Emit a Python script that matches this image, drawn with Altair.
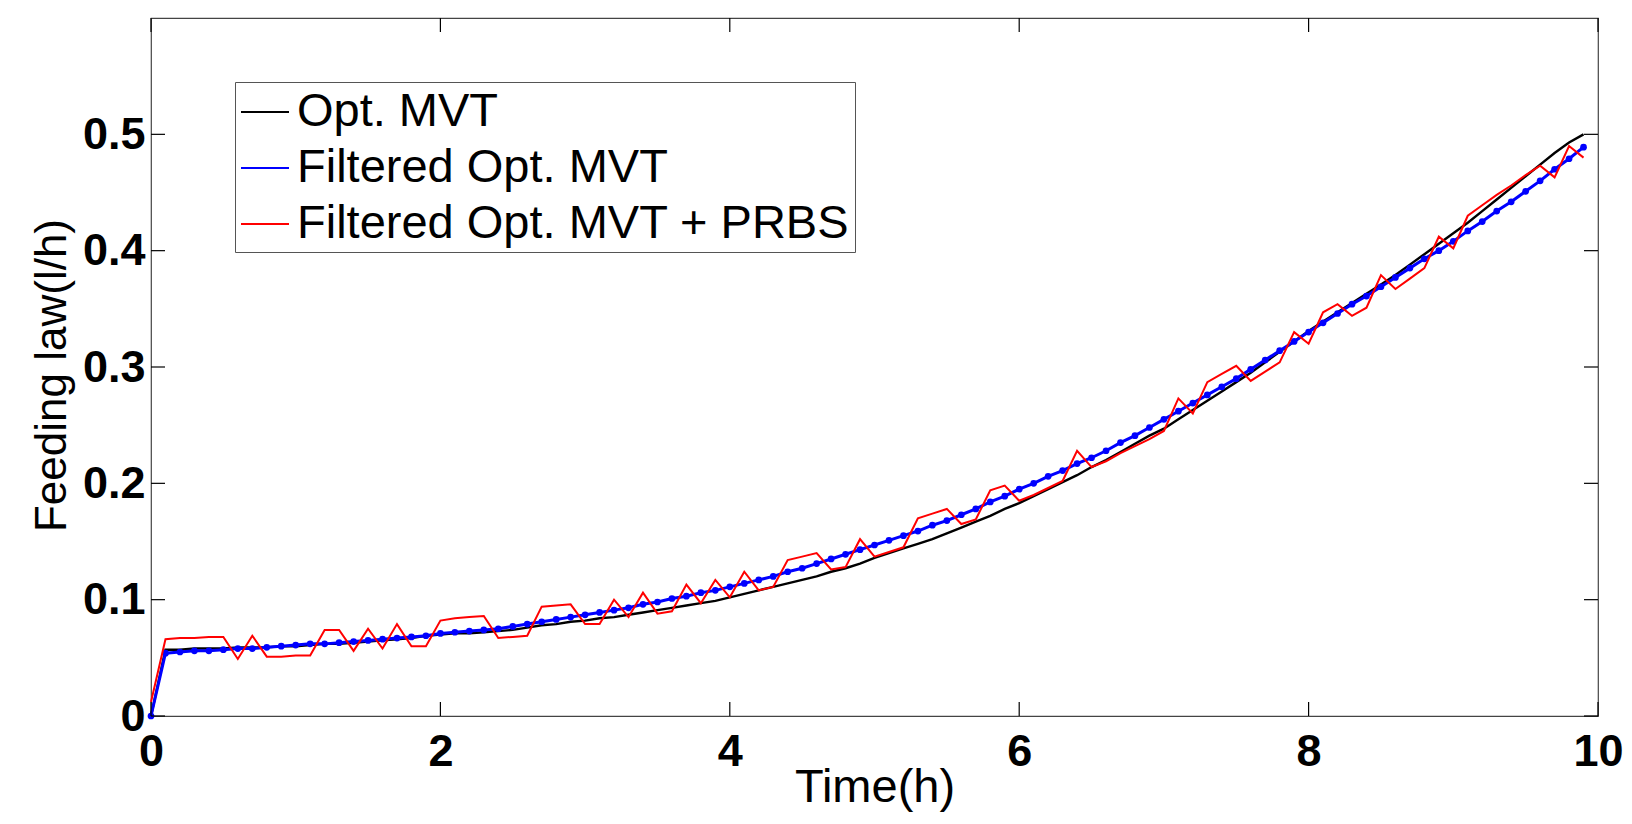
import altair as alt
import pandas as pd

time_h = [0.0, 0.1, 0.2, 0.3, 0.4, 0.5, 0.6, 0.7, 0.8, 0.9,
          1.0, 1.1, 1.2, 1.3, 1.4, 1.5, 1.6, 1.7, 1.8, 1.9,
          2.0, 2.1, 2.2, 2.3, 2.4, 2.5, 2.6, 2.7, 2.8, 2.9,
          3.0, 3.1, 3.2, 3.3, 3.4, 3.5, 3.6, 3.7, 3.8, 3.9,
          4.0, 4.1, 4.2, 4.3, 4.4, 4.5, 4.6, 4.7, 4.8, 4.9,
          5.0, 5.1, 5.2, 5.3, 5.4, 5.5, 5.6, 5.7, 5.8, 5.9,
          6.0, 6.1, 6.2, 6.3, 6.4, 6.5, 6.6, 6.7, 6.8, 6.9,
          7.0, 7.1, 7.2, 7.3, 7.4, 7.5, 7.6, 7.7, 7.8, 7.9,
          8.0, 8.1, 8.2, 8.3, 8.4, 8.5, 8.6, 8.7, 8.8, 8.9,
          9.0, 9.1, 9.2, 9.3, 9.4, 9.5, 9.6, 9.7, 9.8, 9.9]

opt_mvt = [0.000, 0.057, 0.057, 0.058, 0.058, 0.058, 0.059, 0.059, 0.059, 0.060,
           0.060, 0.061, 0.062, 0.062, 0.063, 0.064, 0.065, 0.066, 0.067, 0.069,
           0.070, 0.071, 0.071, 0.072, 0.073, 0.074, 0.076, 0.078, 0.079, 0.081,
           0.082, 0.084, 0.085, 0.087, 0.089, 0.091, 0.093, 0.095, 0.097, 0.099,
           0.102, 0.105, 0.108, 0.111, 0.114, 0.117, 0.120, 0.124, 0.127, 0.131,
           0.136, 0.140, 0.144, 0.148, 0.152, 0.157, 0.162, 0.167, 0.172, 0.178,
           0.183, 0.189, 0.195, 0.201, 0.207, 0.214, 0.220, 0.227, 0.234, 0.241,
           0.247, 0.255, 0.263, 0.271, 0.279, 0.287, 0.295, 0.304, 0.313, 0.322,
           0.331, 0.339, 0.347, 0.355, 0.363, 0.371, 0.379, 0.388, 0.397, 0.406,
           0.415, 0.424, 0.434, 0.444, 0.454, 0.464, 0.474, 0.484, 0.493, 0.500]

filtered_mvt = [0.000, 0.054, 0.055, 0.056, 0.056, 0.057, 0.058, 0.058, 0.059, 0.060,
                0.061, 0.062, 0.062, 0.063, 0.064, 0.065, 0.066, 0.067, 0.068, 0.069,
                0.071, 0.072, 0.073, 0.074, 0.075, 0.077, 0.079, 0.081, 0.083, 0.085,
                0.087, 0.089, 0.091, 0.093, 0.096, 0.098, 0.101, 0.103, 0.106, 0.108,
                0.111, 0.114, 0.117, 0.120, 0.124, 0.127, 0.131, 0.135, 0.139, 0.143,
                0.147, 0.151, 0.155, 0.159, 0.164, 0.168, 0.173, 0.178, 0.184, 0.189,
                0.195, 0.200, 0.206, 0.211, 0.217, 0.222, 0.228, 0.235, 0.241, 0.248,
                0.255, 0.262, 0.269, 0.276, 0.283, 0.290, 0.298, 0.306, 0.314, 0.322,
                0.330, 0.338, 0.346, 0.354, 0.361, 0.369, 0.377, 0.385, 0.393, 0.400,
                0.408, 0.417, 0.425, 0.434, 0.442, 0.451, 0.460, 0.470, 0.479, 0.489]

filtered_prbs = [0.012, 0.066, 0.067, 0.067, 0.068, 0.068, 0.049, 0.069, 0.051, 0.051,
                 0.052, 0.052, 0.074, 0.074, 0.056, 0.075, 0.058, 0.079, 0.060, 0.060,
                 0.082, 0.084, 0.085, 0.086, 0.067, 0.068, 0.069, 0.094, 0.095, 0.096,
                 0.079, 0.079, 0.100, 0.085, 0.106, 0.088, 0.090, 0.113, 0.097, 0.117,
                 0.102, 0.124, 0.108, 0.111, 0.134, 0.137, 0.140, 0.126, 0.128, 0.152,
                 0.137, 0.141, 0.145, 0.170, 0.174, 0.178, 0.165, 0.169, 0.194, 0.198,
                 0.185, 0.190, 0.196, 0.202, 0.228, 0.214, 0.219, 0.226, 0.232, 0.238,
                 0.245, 0.273, 0.260, 0.287, 0.294, 0.301, 0.288, 0.296, 0.304, 0.330,
                 0.320, 0.347, 0.354, 0.344, 0.351, 0.379, 0.367, 0.376, 0.385, 0.412,
                 0.402, 0.430, 0.439, 0.448, 0.456, 0.465, 0.473, 0.463, 0.490, 0.480]

series_names = ["Opt. MVT", "Filtered Opt. MVT", "Filtered Opt. MVT + PRBS"]
series_colors = ["#000000", "#0000ff", "#ff0000"]
x_ticks = [0, 2, 4, 6, 8, 10]
y_ticks = [0, 0.1, 0.2, 0.3, 0.4, 0.5]

W, H = 1447, 698
TICK = 14
FONT = "Liberation Sans"


def frame(vals, name):
    return pd.DataFrame({"t": time_h, "v": vals, "series": name})


df_black = frame(opt_mvt, series_names[0])
df_blue = frame(filtered_mvt, series_names[1])
df_red = frame(filtered_prbs, series_names[2])

xs = alt.Scale(domain=[0, 10], nice=False, zero=False)
ys = alt.Scale(domain=[0, 0.6], nice=False, zero=False)

x_axis = alt.Axis(values=x_ticks, format="d", title="Time(h)", titleY=85,
                  titleBaseline="alphabetic", titleFontSize=47, labelPadding=13)
y_axis = alt.Axis(values=y_ticks, format=".1~f", title="Feeding law(l/h)",
                  titleX=-86, titleY=357, titleBaseline="alphabetic",
                  titleFontSize=44, labelPadding=6)

x_enc = alt.X("t:Q", scale=xs, axis=x_axis)
y_enc = alt.Y("v:Q", scale=ys, axis=y_axis)

color_enc = alt.Color(
    "series:N",
    scale=alt.Scale(domain=series_names, range=series_colors),
    legend=alt.Legend(
        title=None, orient="none", legendX=84, legendY=64,
        symbolType="stroke", symbolSize=2304, symbolStrokeWidth=2,
        labelFont=FONT, labelFontSize=47, labelColor="black", labelOffset=7,
        labelLimit=1000, rowPadding=8, padding=5,
        strokeColor="#555555", fillColor="white",
    ),
)

black_line = alt.Chart(df_black).mark_line(strokeWidth=2.4).encode(x=x_enc, y=y_enc, color=color_enc)
blue_line = alt.Chart(df_blue).mark_line(strokeWidth=3).encode(x=x_enc, y=y_enc, color=color_enc)
blue_pts = alt.Chart(df_blue).mark_point(filled=True, size=45, opacity=1, shape="circle").encode(
    x=x_enc, y=y_enc, color=alt.value("#0000ff"))
red_line = alt.Chart(df_red).mark_line(strokeWidth=2).encode(x=x_enc, y=y_enc, color=color_enc)

xt = pd.DataFrame({"t": x_ticks})
yt = pd.DataFrame({"v": y_ticks})
tick_style = dict(color="black", strokeWidth=1.2)
bottom_ticks = alt.Chart(xt).mark_rule(**tick_style).encode(
    x=x_enc, y=alt.value(H), y2=alt.value(H - TICK))
top_ticks = alt.Chart(xt).mark_rule(**tick_style).encode(
    x=x_enc, y=alt.value(0), y2=alt.value(TICK))
left_ticks = alt.Chart(yt).mark_rule(**tick_style).encode(
    y=y_enc, x=alt.value(0), x2=alt.value(TICK))
right_ticks = alt.Chart(yt).mark_rule(**tick_style).encode(
    y=y_enc, x=alt.value(W), x2=alt.value(W - TICK))

chart = alt.layer(
    black_line, blue_line, blue_pts, red_line,
    bottom_ticks, top_ticks, left_ticks, right_ticks,
).properties(
    width=W, height=H,
    autosize=alt.AutoSizeParams(type="none"),
    padding={"left": 143, "top": 10, "right": 26, "bottom": 100},
    background="white",
).configure_view(
    stroke="#444444", strokeWidth=1.2,
).configure_axis(
    domain=False, ticks=False, tickSize=0, grid=False,
    labelFont=FONT, labelFontSize=45, labelFontWeight="bold", labelColor="black",
    labelFlush=False, labelOverlap=False,
    titleFont=FONT, titleFontSize=45, titleFontWeight="normal", titleColor="black",
)

chart.save("out.html", embed_options={"renderer": "svg", "actions": False})
